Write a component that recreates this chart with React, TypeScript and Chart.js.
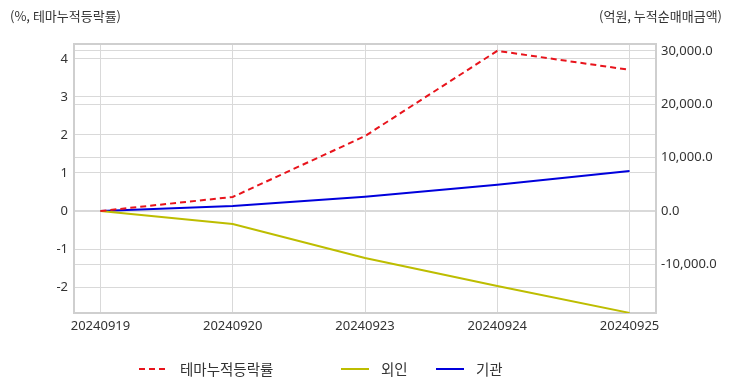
import React, { useEffect, useRef } from "react";
import { Chart, registerables } from "chart.js";

Chart.register(...registerables);

const categories = ["20240919", "20240920", "20240923", "20240924", "20240925"];
const themeRate = [0, 0.37, 1.97, 4.21, 3.71];
const foreignNet = [0, -2450, -8800, -14050, -19100];
const institutionNet = [0, 950, 2650, 4900, 7500];
const leftTicks = [-2, -1, 0, 1, 2, 3, 4];
const rightTicks = [-10000, 0, 10000, 20000, 30000];
const leftRange = [-2.68, 4.39];
const rightRange = [-19125, 31312];
const xRange = [-0.2, 4.2];

const seriesNames = ["테마누적등락률", "외인", "기관"];
const seriesColors = ["#e8141c", "#bdbd00", "#0000dc"];

const FONT = "'Noto Sans', 'Noto Sans CJK KR', sans-serif";
const KFONT = "'Noto Sans CJK KR', 'Noto Sans', sans-serif";

const framePlugin = {
  id: "frame",
  afterDraw(chart: any) {
    const { ctx, chartArea } = chart;
    ctx.save();
    ctx.strokeStyle = "#cfcfcf";
    ctx.lineWidth = 2;
    ctx.beginPath();
    ctx.moveTo(chartArea.left, chartArea.top);
    ctx.lineTo(chartArea.right, chartArea.top);
    ctx.stroke();
    ctx.restore();
  },
};

export default function App() {
  const ref = useRef<HTMLCanvasElement | null>(null);

  useEffect(() => {
    if (!ref.current) return;
    const toXY = (arr: number[]) => arr.map((v, i) => ({ x: i, y: v }));
    const tickFont = { family: FONT, size: 13 };
    const chart = new Chart(ref.current, {
      type: "line",
      data: {
        datasets: [
          {
            label: seriesNames[0],
            data: toXY(themeRate),
            borderColor: seriesColors[0],
            backgroundColor: seriesColors[0],
            borderWidth: 2,
            borderDash: [6, 4],
            pointRadius: 0,
            yAxisID: "y",
            tension: 0,
          },
          {
            label: seriesNames[1],
            data: toXY(foreignNet),
            borderColor: seriesColors[1],
            backgroundColor: seriesColors[1],
            borderWidth: 2,
            pointRadius: 0,
            yAxisID: "y2",
            tension: 0,
          },
          {
            label: seriesNames[2],
            data: toXY(institutionNet),
            borderColor: seriesColors[2],
            backgroundColor: seriesColors[2],
            borderWidth: 2,
            pointRadius: 0,
            yAxisID: "y2",
            tension: 0,
          },
        ],
      },
      options: {
        animation: false,
        responsive: false,
        devicePixelRatio: 1,
        layout: { padding: { top: 44, bottom: 49, left: 0, right: 0 } },
        plugins: {
          legend: { display: false },
          tooltip: { enabled: false },
        },
        scales: {
          x: {
            type: "linear",
            min: xRange[0],
            max: xRange[1],
            afterBuildTicks: (s: any) => {
              s.ticks = categories.map((_, i) => ({ value: i }));
            },
            afterFit: (s: any) => {
              s.height = 30;
            },
            ticks: {
              callback: (v: any) => categories[Math.round(Number(v))] ?? "",
              font: tickFont,
              color: "#333",
              padding: 5,
              maxRotation: 0,
              autoSkip: false,
            },
            grid: { color: "#d9d9d9", drawTicks: false },
            border: { color: "#cfcfcf", width: 2 },
          },
          y: {
            type: "linear",
            position: "left",
            min: leftRange[0],
            max: leftRange[1],
            afterBuildTicks: (s: any) => {
              s.ticks = leftTicks.map((v) => ({ value: v }));
            },
            afterFit: (s: any) => {
              s.width = 74;
            },
            ticks: {
              font: tickFont,
              color: "#333",
              padding: 6,
              callback: (v: any) => String(v),
            },
            grid: { color: "#d9d9d9", drawTicks: false },
            border: { color: "#cfcfcf", width: 2 },
          },
          y2: {
            type: "linear",
            position: "right",
            min: rightRange[0],
            max: rightRange[1],
            afterBuildTicks: (s: any) => {
              s.ticks = rightTicks.map((v) => ({ value: v }));
            },
            afterFit: (s: any) => {
              s.width = 76;
            },
            ticks: {
              font: tickFont,
              color: "#333",
              padding: 5,
              callback: (v: any) =>
                Number(v).toLocaleString("en-US", {
                  minimumFractionDigits: 1,
                  maximumFractionDigits: 1,
                }),
            },
            grid: { color: "#d9d9d9", drawTicks: false },
            border: { color: "#cfcfcf", width: 2 },
          },
        },
      },
      plugins: [framePlugin],
    } as any);
    return () => chart.destroy();
  }, []);

  const legendItems = [
    { lineX: 139, textX: 180, dash: "6,4" },
    { lineX: 341, textX: 381, dash: "" },
    { lineX: 436, textX: 476, dash: "" },
  ];

  return (
    <div
      style={{
        position: "fixed",
        left: 0,
        top: 0,
        width: 732,
        height: 392,
        background: "#fff",
        overflow: "hidden",
      }}
    >
      <canvas ref={ref} width={732} height={392} style={{ position: "absolute", left: 0, top: 0 }} />
      <div
        style={{
          position: "absolute",
          left: 10,
          top: 6,
          font: `13px ${KFONT}`,
          color: "#333",
          lineHeight: "20px",
          whiteSpace: "nowrap",
        }}
      >
        (%, 테마누적등락률)
      </div>
      <div
        style={{
          position: "absolute",
          right: 10,
          top: 6,
          font: `13px ${KFONT}`,
          color: "#333",
          lineHeight: "20px",
          whiteSpace: "nowrap",
        }}
      >
        (억원, 누적순매매금액)
      </div>
      {legendItems.map((it, i) => (
        <React.Fragment key={i}>
          <svg
            width={30}
            height={4}
            style={{ position: "absolute", left: it.lineX, top: 367 }}
          >
            <line
              x1={0}
              y1={2}
              x2={28}
              y2={2}
              stroke={seriesColors[i]}
              strokeWidth={2}
              strokeDasharray={it.dash || undefined}
            />
          </svg>
          <div
            style={{
              position: "absolute",
              left: it.textX,
              top: 358,
              font: `14.5px ${KFONT}`,
              color: "#333",
              lineHeight: "22px",
              whiteSpace: "nowrap",
            }}
          >
            {seriesNames[i]}
          </div>
        </React.Fragment>
      ))}
    </div>
  );
}
